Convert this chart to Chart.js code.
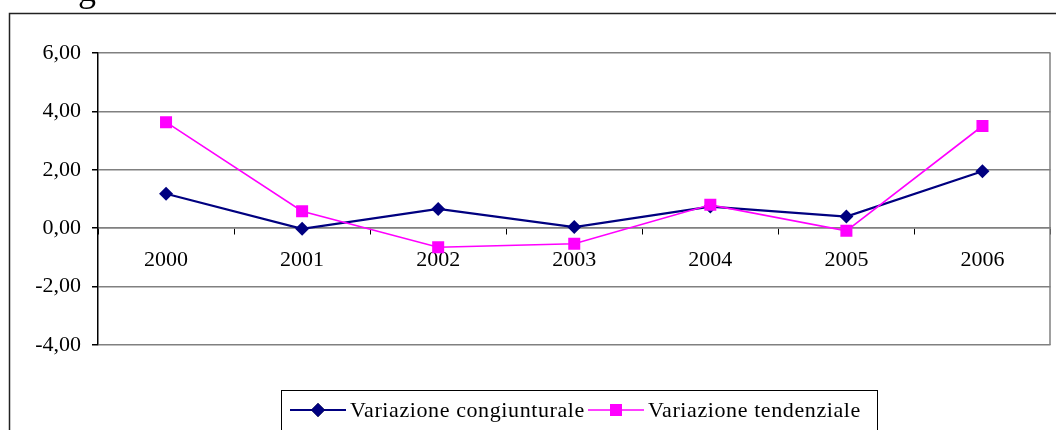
<!DOCTYPE html>
<html>
<head>
<meta charset="utf-8">
<script src="https://cdn.jsdelivr.net/npm/chart.js@4/dist/chart.umd.min.js"></script>
<style>
    body { margin: 0; background: #fff; }
    .wrap { position: relative; width: 1056px; height: 430px; overflow: hidden; }
    .title-cut { position: absolute; left: 78px; top: -31px; font: 36px "Liberation Serif", serif; line-height: 41px; color: #000; }
</style>
</head>
<body>
<div class="wrap">
    <div class="title-cut">g</div>
    <canvas id="chart" width="1059" height="430"></canvas>
</div>
<script>
const years = ['2000', '2001', '2002', '2003', '2004', '2005', '2006'];
const congiunturale = [1.18, -0.02, 0.66, 0.04, 0.74, 0.40, 1.95];
const tendenziale = [3.63, 0.58, -0.65, -0.53, 0.80, -0.09, 3.50];
const seriesNames = ['Variazione congiunturale', 'Variazione tendenziale'];

const FONT = '"Liberation Serif", "Times New Roman", serif';

// --- frame, right border of the plot and the legend box ---
const decorations = {
    id: 'decorations',
    beforeDraw(chart) {
        const ctx = chart.ctx;
        ctx.save();
        ctx.strokeStyle = '#222';
        ctx.lineWidth = 1.5;
        ctx.beginPath();
        ctx.moveTo(9.5, 431);
        ctx.lineTo(9.5, 13.5);
        ctx.lineTo(1059, 13.5);
        ctx.stroke();
        ctx.restore();
    },
    afterDraw(chart) {
        const ctx = chart.ctx;
        const a = chart.chartArea;
        ctx.save();
        ctx.strokeStyle = '#808080';
        ctx.lineWidth = 1.5;
        ctx.beginPath();
        ctx.moveTo(a.right - 0.5, a.top);
        ctx.lineTo(a.right - 0.5, a.bottom);
        ctx.stroke();

        // legend
        ctx.strokeStyle = '#000';
        ctx.lineWidth = 1;
        ctx.strokeRect(281.5, 390.5, 596, 42);
        ctx.font = '22px ' + FONT;
        ctx.letterSpacing = '0.6px';
        ctx.textBaseline = 'middle';
        const starts = [290, 588];
        const y = 410;
        chart.data.datasets.forEach((ds, i) => {
            const x = starts[i];
            ctx.strokeStyle = ds.borderColor;
            ctx.lineWidth = ds.borderWidth;
            ctx.beginPath();
            ctx.moveTo(x, y);
            ctx.lineTo(x + 56, y);
            ctx.stroke();
            Chart.helpers.drawPoint(ctx, {
                pointStyle: ds.pointStyle, radius: ds.pointRadius, rotation: 0, borderWidth: 0
            }, x + 28, y);
            ctx.fillStyle = ds.backgroundColor;
            ctx.fill();
            ctx.fillStyle = '#000';
            ctx.fillText(ds.label, x + 60, y + 1);
        });
        ctx.restore();
    }
};

new Chart(document.getElementById('chart'), {
    type: 'line',
    data: {
        labels: years,
        datasets: [
            {
                label: seriesNames[0],
                data: congiunturale,
                order: 1,
                borderColor: '#000080',
                backgroundColor: '#000080',
                borderWidth: 2.2,
                pointStyle: 'rectRot',
                pointRadius: 7,
                pointBorderWidth: 0,
                tension: 0
            },
            {
                label: seriesNames[1],
                data: tendenziale,
                order: 0,
                borderColor: '#ff00ff',
                backgroundColor: '#ff00ff',
                borderWidth: 1.6,
                pointStyle: 'rect',
                pointRadius: 8.5,
                pointBorderWidth: 0,
                tension: 0
            }
        ]
    },
    options: {
        responsive: false,
        animation: false,
        layout: { padding: { left: 0, top: 53, right: 5, bottom: 85 } },
        plugins: { legend: { display: false }, tooltip: { enabled: false } },
        scales: {
            x: {
                position: { y: 0 },
                offset: true,
                grid: { display: true, offset: true, drawOnChartArea: false, drawTicks: true, tickLength: 6, color: '#000' },
                border: { display: true, color: '#808080', width: 1.5 },
                ticks: { color: '#000', font: { family: FONT, size: 22 }, padding: 13, maxRotation: 0 }
            },
            y: {
                min: -4,
                max: 6,
                afterFit: s => { s.width = 98; },
                grid: { color: '#808080', lineWidth: 1.5, tickLength: 6, tickColor: '#000' },
                border: { display: true, color: '#000', width: 1.5 },
                ticks: {
                    stepSize: 2,
                    color: '#000',
                    padding: 11,
                    font: { family: FONT, size: 22 },
                    callback: v => v.toFixed(2).replace('.', ',')
                }
            }
        }
    },
    plugins: [decorations]
});
</script>
</body>
</html>
